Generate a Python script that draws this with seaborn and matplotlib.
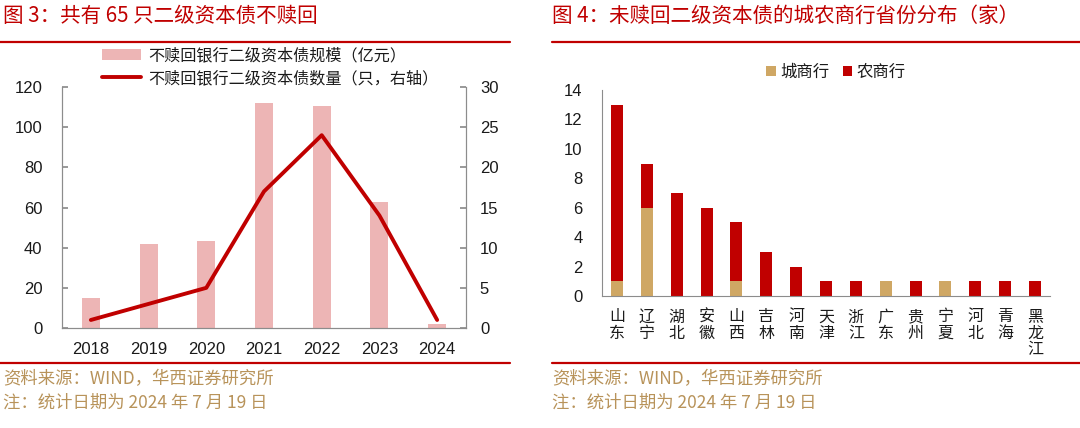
import matplotlib
matplotlib.use("Agg")
import matplotlib.pyplot as plt
import seaborn as sns
import pandas as pd
import numpy as np
from matplotlib.lines import Line2D
from matplotlib.patches import Patch

# ---------------- data ----------------
years = ["2018", "2019", "2020", "2021", "2022", "2023", "2024"]
scale_vals = [15, 42, 43.5, 112, 110.5, 62.5, 2]      # 亿元
count_vals = [1, 3, 5, 17, 24, 14, 1]                  # 只

provinces = ["山东", "辽宁", "湖北", "安徽", "山西", "吉林", "河南", "天津",
             "浙江", "广东", "贵州", "宁夏", "河北", "青海", "黑龙江"]
city_banks = [1, 6, 0, 0, 1, 0, 0, 0, 0, 1, 0, 1, 0, 0, 0]
rural_banks = [12, 3, 7, 6, 4, 3, 2, 1, 1, 0, 1, 0, 1, 1, 1]

title_left = "图 3：共有 65 只二级资本债不赎回"
title_right = "图 4：未赎回二级资本债的城农商行省份分布（家）"
legend_left = ["不赎回银行二级资本债规模（亿元）", "不赎回银行二级资本债数量（只，右轴）"]
legend_right = ["城商行", "农商行"]
source_txt = "资料来源：WIND，华西证券研究所"
note_txt = "注：统计日期为 2024 年 7 月 19 日"

# ---------------- style ----------------
sns.set_theme(style="white")
CJK = ["Noto Sans CJK SC", "DejaVu Sans"]
NUM = ["Liberation Sans", "Noto Sans CJK SC"]
plt.rcParams["font.family"] = CJK

RED = "#C00000"
PINK = "#EDB5B5"
TAN = "#CFA764"
FOOT = "#B8935A"
SPINE = "#8C8C8C"
TXT = "#1a1a1a"

W, H = 1080, 428
fig = plt.figure(figsize=(W / 100, H / 100), dpi=100)

def ax_px(x0, y0, x1, y1):
    return fig.add_axes([x0 / W, 1 - y1 / H, (x1 - x0) / W, (y1 - y0) / H])

# titles, rules, footers
fig.text(3 / W, 1 - 16 / H, title_left, color=RED, fontsize=14.8, va="center", ha="left")
fig.text(552 / W, 1 - 16 / H, title_right, color=RED, fontsize=14.8, va="center", ha="left")
for (xa, xb) in [(0, 510), (552, 1080)]:
    fig.add_artist(Line2D([xa / W, xb / W], [1 - 42 / H, 1 - 42 / H], color=RED, lw=1.6))
    fig.add_artist(Line2D([xa / W, xb / W], [1 - 363 / H, 1 - 363 / H], color=RED, lw=1.6))
for x0 in (3, 552):
    fig.text(x0 / W, 1 - 379 / H, source_txt, color=FOOT, fontsize=12.5, va="center", ha="left")
    fig.text(x0 / W, 1 - 403 / H, note_txt, color=FOOT, fontsize=12.5, va="center", ha="left")

# ---------------- left chart ----------------
df_l = pd.DataFrame({"year": years, "scale": scale_vals, "count": count_vals})
ax1 = ax_px(62, 87, 466, 328)
sns.barplot(data=df_l, x="year", y="scale", color=PINK, width=0.31, ax=ax1,
            saturation=1, edgecolor="none")
ax1.set_ylim(0, 120)
ax1.set_yticks(range(0, 121, 20))
ax1.set_xlim(-0.5, 6.5)
ax2 = ax1.twinx()
sns.lineplot(data=df_l, x="year", y="count", color=RED, lw=2.8, ax=ax2, sort=False)
ax2.set_ylim(0, 30)
ax2.set_yticks(range(0, 31, 5))
ax2.set_xlim(-0.5, 6.5)
for a in (ax1, ax2):
    a.set_xlabel("")
    a.set_ylabel("")
    a.spines["top"].set_visible(False)
    for s in ("left", "right", "bottom"):
        a.spines[s].set_color(SPINE)
        a.spines[s].set_linewidth(0.8)
ax1.tick_params(axis="y", direction="in", length=4, color=SPINE, labelsize=12, pad=14, colors=TXT)
ax2.tick_params(axis="y", direction="in", length=4, color=SPINE, labelsize=12, pad=10, colors=TXT)
ax1.tick_params(axis="x", length=0, labelsize=12, pad=10, colors=TXT)
for a in (ax1, ax2):
    for lbl in a.get_xticklabels() + a.get_yticklabels():
        lbl.set_fontfamily(NUM)
handles = [Patch(facecolor=PINK, edgecolor="none"), Line2D([0], [0], color=RED, lw=2.8)]
fig.legend(handles, legend_left, loc="center left", bbox_to_anchor=(94 / W, 1 - 67 / H),
           frameon=False, fontsize=11.6, handlelength=2.4, handleheight=0.6,
           labelspacing=0.35, borderpad=0, handletextpad=0.5, labelcolor=TXT)

# ---------------- right chart ----------------
totals = [c + r for c, r in zip(city_banks, rural_banks)]
df_r = pd.DataFrame({"prov": ["\n".join(p) for p in provinces],
                     "city": city_banks, "total": totals})
ax3 = ax_px(602, 90, 1050, 296)
sns.barplot(data=df_r, x="prov", y="total", color=RED, width=0.4, ax=ax3,
            saturation=1, edgecolor="none")
sns.barplot(data=df_r, x="prov", y="city", color=TAN, width=0.4, ax=ax3,
            saturation=1, edgecolor="none")
ax3.set_ylim(0, 14)
ax3.set_yticks(range(0, 15, 2))
ax3.set_xlim(-0.5, 14.5)
ax3.set_xlabel("")
ax3.set_ylabel("")
for s in ("top", "right"):
    ax3.spines[s].set_visible(False)
for s in ("left", "bottom"):
    ax3.spines[s].set_color(SPINE)
    ax3.spines[s].set_linewidth(0.8)
ax3.tick_params(axis="y", direction="in", length=4, color=SPINE, labelsize=12, pad=14, colors=TXT)
ax3.tick_params(axis="x", length=0, labelsize=11.5, pad=9, colors=TXT)
for lbl in ax3.get_yticklabels():
    lbl.set_fontfamily(NUM)
for lbl in ax3.get_xticklabels():
    lbl.set_va("top")
    lbl.set_linespacing(0.95)
ax3.set_xticks(np.arange(-0.5, 15, 1), minor=True)
ax3.tick_params(axis="x", which="minor", direction="out", length=3, color=SPINE)
handles_r = [Patch(facecolor=TAN, edgecolor="none"), Patch(facecolor=RED, edgecolor="none")]
fig.legend(handles_r, legend_right, loc="center", bbox_to_anchor=(836 / W, 1 - 72 / H),
           ncol=2, frameon=False, fontsize=11.8, handlelength=0.6, handleheight=0.6,
           handletextpad=0.25, columnspacing=0.8, borderpad=0, labelcolor=TXT)

fig.savefig("out.png", dpi=100)
